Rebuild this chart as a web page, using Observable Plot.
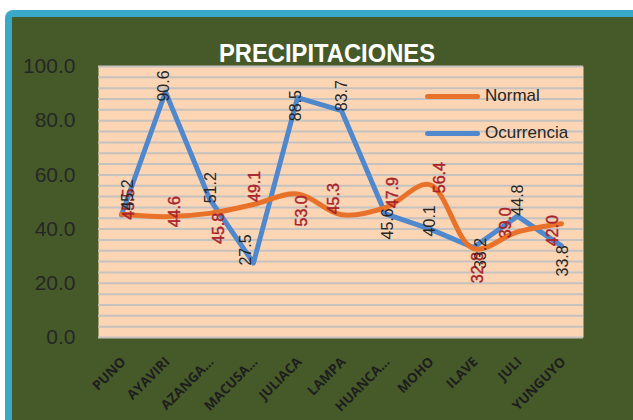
<!DOCTYPE html>
<html>
<head>
<meta charset="utf-8">
<script src="https://cdn.jsdelivr.net/npm/d3@7"></script>
<script src="https://cdn.jsdelivr.net/npm/@observablehq/plot@0.6"></script>
<style>
  html, body { margin: 0; padding: 0; background: #ffffff; width: 633px; height: 420px; overflow: hidden; }
  #frame { position: absolute; left: 5px; top: 10px; width: 628px; height: 410px; background: #3aa9c8; border-top-left-radius: 8px; overflow: hidden; }
  #green { position: absolute; left: 7px; top: 7px; width: 621px; height: 403px; background: #465a29; }
  #chart { position: absolute; left: 0; top: 0; }
  #title { position: absolute; left: 0; top: 0; }
  .leg { position: absolute; font-family: "Liberation Sans", Arial, sans-serif; font-size: 17px; color: #262626; line-height: 1; }
  .legline { position: absolute; height: 5px; border-radius: 3px; }
</style>
</head>
<body>
<div id="frame"><div id="green"><div id="chart"></div></div></div>
<script>
// ---- data ----
const categories = ["PUNO","AYAVIRI","AZANGA...","MACUSA...","JULIACA","LAMPA","HUANCA...","MOHO","ILAVE","JULI","YUNGUYO"];
const normal     = [45.5, 44.6, 45.8, 49.1, 53.0, 45.3, 47.9, 56.4, 32.8, 39.0, 42.0];
const ocurrencia = [45.2, 90.6, 51.2, 27.5, 88.5, 83.7, 45.6, 40.1, 33.2, 44.8, 33.8];
const yTicks     = [0, 20, 40, 60, 80, 100];
const seriesNames = ["Normal", "Ocurrencia"];
const titleText = "PRECIPITACIONES";

// ---- label offsets (style, px) ----
const normalDx = [7, 9, 9, 1, 4, -8, 7, 10, 4, -12, -9];
const normalDy = [-10, -5, 15, -18, 17, -16, -15, -7, 19, -9, 7];
const ocDx     = [6, -2, 1, -8, -2, 0, 2, 0, 7, 0, 1];
const ocDy     = [-20, -6, -11, -13, 8, -15, 10, -8, 6, -16, 15];

const ORANGE = "#e9722b", BLUE = "#4f88cd", RED = "#a8232a", DARK = "#262626";
const FONT = "Liberation Sans, Arial, sans-serif";

const rows = categories.map((c, i) => ({cat: c, normal: normal[i], oc: ocurrencia[i]}));
const gridVals = d3.range(0, 101, 4);

const normalLabels = rows.map((r, i) => Plot.text([r], {
  x: "cat", y: "normal", text: d => d.normal.toFixed(1), rotate: -90,
  dx: normalDx[i], dy: normalDy[i], fill: RED, fontSize: 16, fontFamily: FONT,
  stroke: RED, strokeWidth: 0.4
}));
const ocLabels = rows.map((r, i) => Plot.text([r], {
  x: "cat", y: "oc", text: d => d.oc.toFixed(1), rotate: -90,
  dx: ocDx[i], dy: ocDy[i], fill: DARK, fontSize: 16, fontFamily: FONT
}));

const plot = Plot.plot({
  width: 621,
  height: 403,
  marginLeft: 86,
  marginRight: 50,
  marginTop: 49,
  marginBottom: 83,
  style: {background: "transparent", fontFamily: FONT, overflow: "visible"},
  x: {type: "point", domain: categories, padding: 0.5, axis: null},
  y: {domain: [0, 100]},
  marks: [
    Plot.frame({fill: "#fcd5b4", stroke: null}),
    Plot.ruleY(gridVals, {stroke: "#c6c2bf", strokeWidth: 2}),
    Plot.axisY({ticks: yTicks, tickFormat: d => d.toFixed(1), tickSize: 0, tickPadding: 23,
      fontSize: 21, fill: DARK, label: null, fontFamily: FONT}),
    Plot.text(categories, {x: d => d, frameAnchor: "bottom", dy: 22, dx: 2, rotate: -45,
      textAnchor: "end", lineAnchor: "middle", fontSize: 13.5, fontWeight: "bold",
      fill: "#1e1e1e", fontFamily: "Open Sans, Liberation Sans, sans-serif"}),
    Plot.lineY(rows, {x: "cat", y: "oc", stroke: BLUE, strokeWidth: 5, strokeLinejoin: "round", strokeLinecap: "round"}),
    Plot.lineY(rows, {x: "cat", y: "normal", stroke: ORANGE, strokeWidth: 5, curve: "catmull-rom", strokeLinecap: "round"}),
    ...normalLabels,
    ...ocLabels
  ]
});
const green = document.getElementById("green");
document.getElementById("chart").appendChild(plot);

// ---- title ----
const ns = "http://www.w3.org/2000/svg";
const tsvg = document.createElementNS(ns, "svg");
tsvg.setAttribute("width", 621); tsvg.setAttribute("height", 60);
tsvg.setAttribute("id", "title");
const tt = document.createElementNS(ns, "text");
tt.setAttribute("x", 315); tt.setAttribute("y", 45);
tt.setAttribute("text-anchor", "middle");
tt.setAttribute("font-family", FONT);
tt.setAttribute("font-weight", "bold");
tt.setAttribute("font-size", 25);
tt.setAttribute("fill", "#ffffff");
tt.setAttribute("textLength", 216);
tt.setAttribute("lengthAdjust", "spacingAndGlyphs");
tt.textContent = titleText;
tsvg.appendChild(tt);
green.appendChild(tsvg);

// ---- legend ----
const legColors = [ORANGE, BLUE];
seriesNames.forEach((name, i) => {
  const y = 79 + i * 37;
  const ln = document.createElement("div");
  ln.className = "legline";
  ln.style.left = "413px"; ln.style.top = (y - 2.5) + "px"; ln.style.width = "55px";
  ln.style.background = legColors[i];
  green.appendChild(ln);
  const tx = document.createElement("div");
  tx.className = "leg";
  tx.style.left = "473px"; tx.style.top = (y - 9) + "px";
  tx.textContent = name;
  green.appendChild(tx);
});
</script>
</body>
</html>
